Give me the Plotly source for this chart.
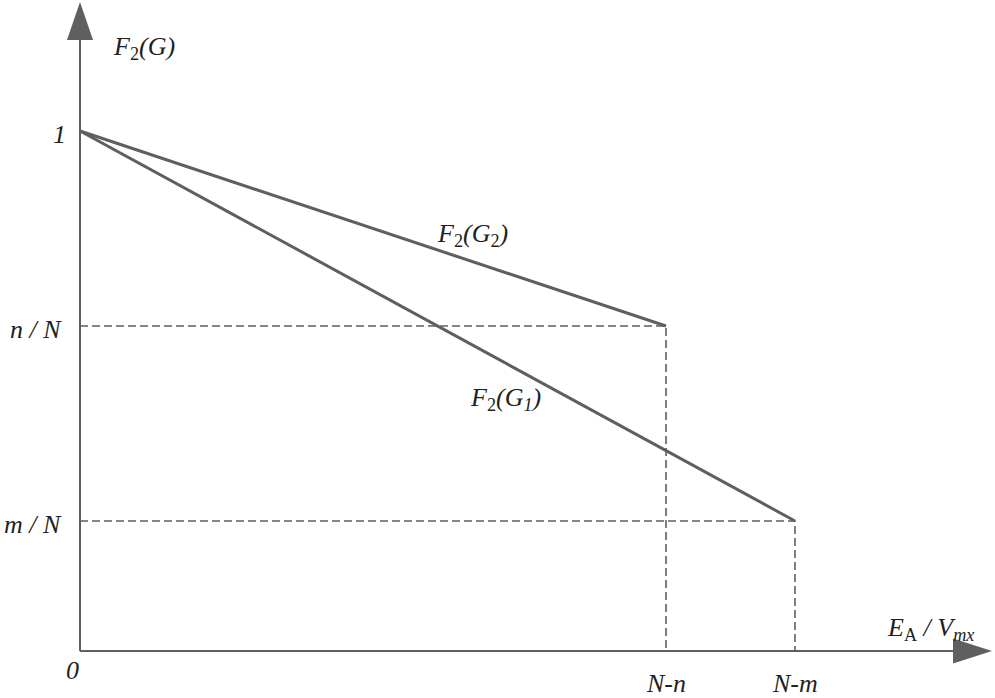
import plotly.graph_objects as go

# conceptual values (x in arbitrary units, y as fraction)
x_points = [5.86, 7.15]          # N-n, N-m
x_labels = ["N-n", "N-m"]
y_points = [1.0, 0.625, 0.25]    # 1, n/N, m/N
y_labels = ["1", "n&nbsp;/&nbsp;N", "m&nbsp;/&nbsp;N"]
g2_x = [0, 5.86]
g2_y = [1.0, 0.625]
g1_x = [0, 7.15]
g1_y = [1.0, 0.25]

line_col = "#5f5f5f"
txt_col = "#231f20"
serif = "Liberation Serif, Times New Roman, serif"

fig = go.Figure()

# dashed guides
for xv, yv in zip(x_points, [0.625, 0.25]):
    fig.add_trace(go.Scatter(x=[0, xv, xv], y=[yv, yv, 0], mode="lines",
                             line=dict(color=line_col, width=1.6, dash="8px,4px"),
                             hoverinfo="skip"))

fig.add_trace(go.Scatter(x=g2_x, y=g2_y, mode="lines",
                         line=dict(color=line_col, width=3), hoverinfo="skip"))
fig.add_trace(go.Scatter(x=g1_x, y=g1_y, mode="lines",
                         line=dict(color=line_col, width=3), hoverinfo="skip"))

# axes with arrowheads (x: 100 px/unit, y: 520 px/unit)
shapes = [
    dict(type="line", x0=0, y0=0, x1=0, y1=1.18, line=dict(color=line_col, width=2)),
    dict(type="line", x0=0, y0=0, x1=8.8, y1=0, line=dict(color=line_col, width=2)),
    dict(type="path", path="M -0.13,1.175 L 0.13,1.175 L 0,1.248 Z",
         fillcolor=line_col, line=dict(width=0)),
    dict(type="path", path="M 8.73,0.024 L 8.73,-0.024 L 9.12,0 Z",
         fillcolor=line_col, line=dict(width=0)),
]

ann = []
def add_text(x, y, text, xanchor="center", size=26):
    ann.append(dict(x=x, y=y, text=text, showarrow=False, xanchor=xanchor,
                    yanchor="middle", font=dict(family=serif, size=size, color=txt_col)))

for yv, lab in zip(y_points, y_labels):
    xpos = -0.12 if lab == "1" else -0.16
    add_text(xpos, yv - 0.006, "<i>%s</i>" % lab, xanchor="right")
add_text(-0.08, -0.037, "<i>0</i>", xanchor="center")
for xv, lab in zip(x_points, x_labels):
    add_text(xv, -0.063, "<i>%s</i>" % lab)

add_text(0.31, 1.16, "<i>F</i><sub>2</sub><i>(G)</i>", xanchor="left")
add_text(8.05, 0.042, "<i>E</i><sub>A</sub><i>&nbsp;/&nbsp;V</i><sub><i>mx</i></sub>", xanchor="left")
add_text(3.55, 0.80, "<i>F</i><sub>2</sub><i>(G</i><sub>2</sub><i>)</i>", xanchor="left")
add_text(3.88, 0.485, "<i>F</i><sub>2</sub><i>(G</i><sub><i>1</i></sub><i>)</i>", xanchor="left")

fig.update_layout(
    width=995, height=698,
    margin=dict(l=0, r=0, t=0, b=0),
    paper_bgcolor="white", plot_bgcolor="white",
    showlegend=False,
    shapes=shapes, annotations=ann,
    xaxis=dict(range=[-0.80, 9.15], visible=False, fixedrange=True),
    yaxis=dict(range=[-0.0904, 1.2519], visible=False, fixedrange=True),
)

fig.write_html("out.html", config={"displayModeBar": False},
               post_script="document.body.style.margin='0';")
